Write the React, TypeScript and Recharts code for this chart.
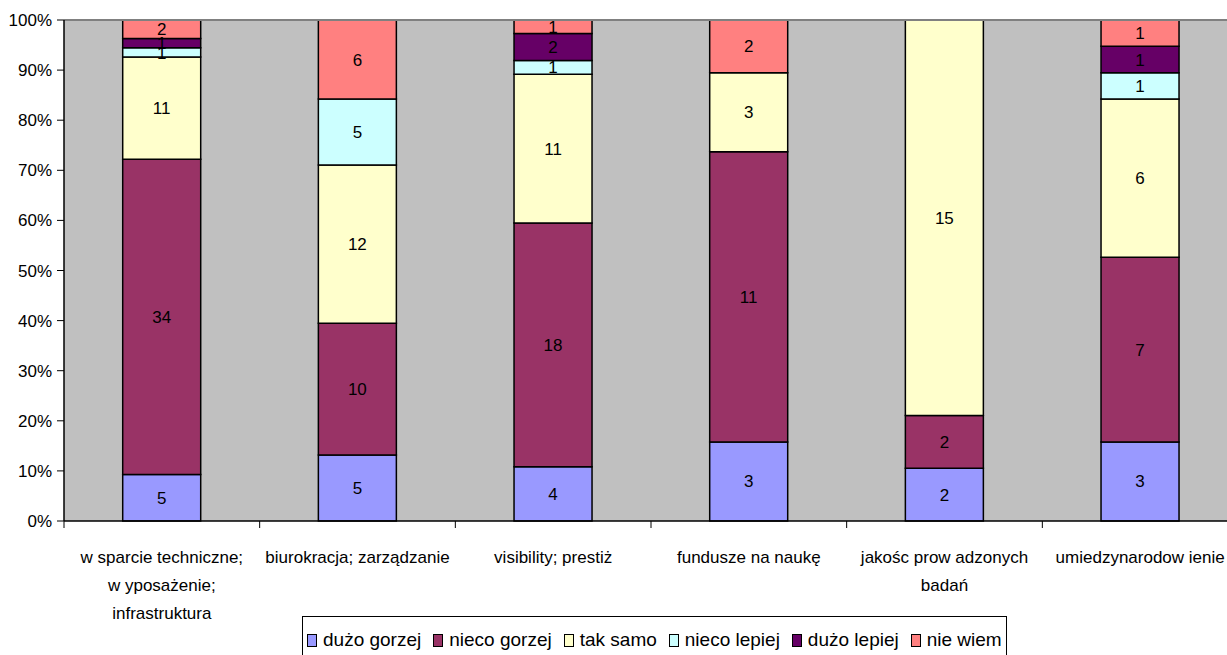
import React from 'react';
import {BarChart, Bar, XAxis, YAxis, CartesianGrid, Legend, LabelList, ReferenceLine} from 'recharts';

const categoryLines = [
    ['w sparcie techniczne;', 'w yposażenie;', 'infrastruktura'],
    ['biurokracja; zarządzanie'],
    ['visibility; prestiż'],
    ['fundusze na naukę'],
    ['jakośc prow adzonych', 'badań'],
    ['umiedzynarodow ienie'],
];

const duzoGorzej = [5, 5, 4, 3, 2, 3];
const niecoGorzej = [34, 10, 18, 11, 2, 7];
const takSamo = [11, 12, 11, 3, 15, 6];
const niecoLepiej = [1, 5, 1, 0, 0, 1];
const duzoLepiej = [1, 0, 2, 0, 0, 1];
const nieWiem = [2, 6, 1, 2, 0, 1];

const yTicks = [0, 0.1, 0.2, 0.3, 0.4, 0.5, 0.6, 0.7, 0.8, 0.9, 1];

const series = [
    {key: 'duzoGorzej', name: 'dużo gorzej', color: '#9999FF', values: duzoGorzej},
    {key: 'niecoGorzej', name: 'nieco gorzej', color: '#993366', values: niecoGorzej},
    {key: 'takSamo', name: 'tak samo', color: '#FFFFCC', values: takSamo},
    {key: 'niecoLepiej', name: 'nieco lepiej', color: '#CCFFFF', values: niecoLepiej},
    {key: 'duzoLepiej', name: 'dużo lepiej', color: '#660066', values: duzoLepiej},
    {key: 'nieWiem', name: 'nie wiem', color: '#FF8080', values: nieWiem},
];

const data = categoryLines.map((lines, i) => {
    const row: Record<string, string | number> = {category: lines.join(' ')};
    series.forEach((s) => {
        row[s.key] = s.values[i];
    });
    return row;
});

const FONT = "'Liberation Sans', Arial, sans-serif";
const FONT_SIZE = 17;
const CHART_W = 1238;
const CHART_H = 655;
const Y_AXIS_W = 64;
const band = (CHART_W - Y_AXIS_W) / categoryLines.length;

const CategoryTick = (props: any) => {
    const {x, y, payload} = props;
    const lines = categoryLines[payload.index] || [];
    const isLast = payload.index === categoryLines.length - 1;
    return (
        <g>
            <line x1={x - band / 2} x2={x - band / 2} y1={y - 8} y2={y - 1} stroke='#000' />
            {isLast && <line x1={x + band / 2} x2={x + band / 2} y1={y - 8} y2={y - 1} stroke='#000' />}
            {lines.map((line, i) => (
                <text
                    key={i}
                    x={x}
                    y={y + 34 + i * 28}
                    textAnchor='middle'
                    fontSize={FONT_SIZE}
                    fontFamily={FONT}
                    fill='#000'
                >
                    {line}
                </text>
            ))}
        </g>
    );
};

const LegendBox = () => (
    <div
        style={{
            border: '1px solid #000',
            background: '#fff',
            padding: '13px 4px 14px 4px',
            display: 'flex',
            alignItems: 'center',
            fontFamily: FONT,
            fontSize: 19,
            lineHeight: '20px',
            whiteSpace: 'nowrap',
        }}
    >
        {series.map((s, i) => (
            <span
                key={s.key}
                style={{display: 'flex', alignItems: 'center', marginRight: i === series.length - 1 ? 0 : 12}}
            >
                <span
                    style={{
                        display: 'inline-block',
                        width: 8,
                        height: 11,
                        background: s.color,
                        border: '1px solid #000',
                        marginRight: 6,
                    }}
                />
                {s.name}
            </span>
        ))}
    </div>
);

export default function App() {
    return (
        <div style={{position: 'absolute', left: 0, top: 0, width: 1227, height: 655, overflow: 'hidden', background: '#fff'}}>
            <BarChart
                width={CHART_W}
                height={CHART_H}
                data={data}
                stackOffset='expand'
                barCategoryGap='30%'
                margin={{top: 20, right: 0, bottom: 0, left: 0}}
            >
                <CartesianGrid fill='#C0C0C0' horizontal={false} vertical={false} />
                <XAxis
                    dataKey='category'
                    height={134}
                    interval={0}
                    tickLine={false}
                    axisLine={{stroke: '#000', strokeWidth: 1.5}}
                    tick={<CategoryTick />}
                />
                <YAxis
                    width={Y_AXIS_W}
                    domain={[0, 1]}
                    ticks={yTicks}
                    tickSize={7}
                    tickMargin={5}
                    tickLine={{stroke: '#000'}}
                    axisLine={{stroke: '#000', strokeWidth: 1.5}}
                    tickFormatter={(v: number) => `${Math.round(v * 100)}%`}
                    tick={{fontSize: FONT_SIZE, fontFamily: FONT, fill: '#000'}}
                />
                <ReferenceLine y={1} stroke='#808080' strokeWidth={2} />
                {series.map((s) => (
                    <Bar
                        key={s.key}
                        dataKey={s.key}
                        name={s.name}
                        stackId='a'
                        fill={s.color}
                        stroke='#000'
                        strokeWidth={1.5}
                        isAnimationActive={false}
                    >
                        <LabelList
                            dataKey={s.key}
                            position='center'
                            fill='#000'
                            fontSize={FONT_SIZE}
                            fontFamily={FONT}
                            formatter={(v: any) => (v === 0 ? '' : v)}
                        />
                    </Bar>
                ))}
                <Legend
                    layout='horizontal'
                    verticalAlign='middle'
                    wrapperStyle={{left: 302, top: 616, width: 'auto', height: 'auto'}}
                    content={() => <LegendBox />}
                />
            </BarChart>
        </div>
    );
}
